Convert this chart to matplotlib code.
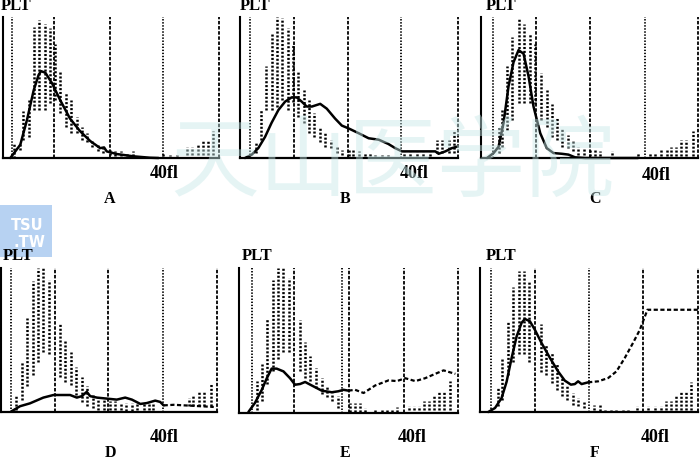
import matplotlib
matplotlib.use('Agg')
import matplotlib.pyplot as plt
from matplotlib.patches import Rectangle

plt.rcParams['lines.scale_dashes'] = False

W, H = 700, 461

# ---------------- data (x: channel 0-100, y: relative count 0-100) ----------------
panel_labels = ['A', 'B', 'C', 'D', 'E', 'F']
y_label = 'PLT'
size_label = '40fl'
watermark = '天山医学院'
logo_lines = ['TSU', '.TW']

# Panel A
A_curve_x = [3.4, 8.0, 11.1, 14.2, 16.5, 17.6, 19.6, 22.7, 26.5, 31.0, 35.7, 40.4, 45.0, 46.8, 48.0, 52.7, 60.4, 68.0, 72.0]
A_curve_y = [0, 9.4, 27, 48, 59, 61.6, 60.5, 53, 41, 28, 19, 12, 7, 7.5, 4.7, 2.8, 1.2, 0.2, 0]
A_env_x = [4.9, 8.0, 9.2, 11.9, 14.2, 16.8, 19.3, 21.9, 24.2, 26.5, 29.1, 31.6, 34.2, 36.7, 39.1, 41.4, 43.9, 46.5, 49.6, 52.0, 54.5, 57.3, 60.0, 74.3, 77.3, 80.4, 85.0, 87.4, 90.4, 92.8, 95.0, 97.4]
A_env_lo = [0, 6, 13, 15, 34, 34, 34, 39, 41, 32, 22, 18, 18, 13, 11, 8, 5, 3.5, 2.4, 1.2, 1.2, 1.2, 1.2, 1.2, 1.2, 1.2, 2.4, 2.4, 2.4, 2.4, 2.4, 2.4]
A_env_hi = [10, 10.6, 33, 41, 93, 98, 95, 92, 81, 61, 47, 41, 29, 22, 18, 13, 9, 7, 6, 4.7, 4.7, 3.5, 4.7, 3.5, 2.4, 2.4, 8, 8, 9.4, 13, 13, 19]

# Panel B
B_curve_x = [2.3, 5.4, 8.4, 11.5, 14.5, 17.6, 20.7, 23.7, 26.0, 28.3, 30.6, 33.0, 36.8, 39.8, 43.6, 46.7, 49.8, 54.4, 59.0, 63.6, 68.0, 71.2, 74.3, 82.0, 89.6, 91.1, 94.2, 97.2, 99.5]
B_curve_y = [0, 2.4, 7, 15, 25, 34, 40, 43, 43, 40, 36.5, 36.5, 38.4, 35, 28, 23, 21, 17.6, 14, 13, 10, 7, 4.7, 4.7, 4.7, 3, 4.7, 7, 8]
B_env_x = [7.2, 9.6, 11.9, 14.5, 16.8, 19.1, 21.9, 24.5, 26.8, 29.4, 31.7, 34.1, 36.8, 39.0, 41.8, 44.4, 47.0, 49.8, 52.0, 54.7, 57.4, 59.7, 62.0, 65.0, 68.0, 75.0, 78.0, 81.0, 84.0, 87.0, 90.4, 92.6, 95.7, 98.0]
B_env_lo = [3.5, 13, 34, 34, 36, 41, 34, 40, 29, 25, 18, 15, 11, 8, 7, 3.5, 2.4, 1.2, 1.2, 1.2, 1.2, 1.2, 1.2, 1.2, 1.2, 1.2, 1.2, 1.2, 1.2, 1.2, 3.5, 3.5, 3.5, 3.5]
B_env_hi = [10.6, 34, 65, 88, 100, 99, 92, 81, 62, 48, 41, 32, 22, 18, 13, 8, 6, 6, 6, 4.7, 3.5, 3.5, 2.4, 2.4, 2.4, 4, 4, 4, 4, 4, 13, 13, 13, 19]

# Panel C
C_curve_x = [2.8, 5.8, 8.1, 10.4, 12.7, 15.0, 17.3, 19.6, 21.9, 24.2, 27.3, 30.3, 33.4, 37.2, 40.3, 43.3, 48.0, 72.4]
C_curve_y = [0, 3.5, 8, 25, 51, 68, 76.5, 74, 58, 36.5, 17.6, 7, 3.5, 3, 2.4, 0.5, 0, 0]
C_env_x = [8.1, 9.6, 11.9, 14.5, 17.3, 19.9, 22.4, 25.0, 27.7, 30.3, 32.6, 34.9, 37.5, 40.3, 42.6, 44.9, 47.6, 50.2, 52.5, 54.8, 60.2, 72.4, 77.8, 80.0, 83.0, 85.5, 87.7, 90.0, 92.3, 94.6, 97.7]
C_env_lo = [3.5, 8, 20, 27, 39, 39, 39, 38, 27, 22, 15, 13, 8, 7, 4.7, 2.4, 2.4, 1.2, 1.2, 1.2, 2.4, 1.2, 1.2, 1.2, 1.2, 1.2, 1.2, 1.2, 1.2, 1.2, 1.2]
C_env_hi = [22, 34, 65, 86, 99, 95, 89, 81, 60, 48, 38, 29, 21, 16, 13, 8, 7, 6, 6, 4.7, 4.7, 3.5, 3.5, 3.5, 6, 6, 8, 8, 13, 13, 19]

# Panel D
D_curve_x = [4.9, 8.8, 13.4, 19.6, 24.3, 32.0, 35.1, 37.4, 39.7, 41.3, 44.4, 49.0, 53.6, 57.5, 60.6, 64.5, 67.5, 71.4, 73.7, 75.3]
D_curve_y = [0.5, 4, 6, 10, 11.8, 11.8, 10, 11, 14, 11, 10, 9.3, 8.6, 10, 8.6, 5.6, 6.2, 7.9, 7, 4.6]
D_dash_x = [75.3, 80.0, 85.0, 90.0, 95.0, 98.5]
D_dash_y = [4.6, 5.0, 4.6, 4.2, 3.8, 3.5]
D_env_x = [7.0, 9.6, 12.2, 15.0, 17.3, 19.6, 22.4, 27.4, 29.7, 32.3, 34.8, 37.4, 39.7, 42.5, 45.0, 47.5, 50.5, 53.0, 55.5, 58.0, 60.5, 63.0, 66.0, 68.3, 70.6, 86.9, 89.0, 91.5, 93.8, 97.0]
D_env_lo = [1.6, 8.6, 18, 26, 35, 42, 40, 24, 21, 19, 12, 7, 4, 3, 1.6, 1.6, 1.6, 1.6, 1.6, 1, 1, 1.6, 1.6, 1.6, 1.6, 4, 4, 4, 4, 4]
D_env_hi = [11, 35, 65, 91, 100, 100, 92, 62, 49, 42, 31, 24, 18, 12, 10, 8.6, 7.5, 7.5, 6.2, 6.2, 6.2, 6.2, 6.2, 6.2, 6.2, 9.7, 11, 14, 14, 20]

# Panel E
E_curve_x = [4.3, 7.3, 10.4, 12.7, 14.9, 17.2, 20.3, 23.3, 25.6, 27.9, 30.2, 33.2, 37.8, 42.4, 45.4, 47.7, 50.0]
E_curve_y = [0.7, 7, 16, 24, 30.6, 30.6, 28.7, 24, 19.5, 20, 21.4, 19, 15.4, 14.3, 15, 16, 15.4]
E_dash_x = [50.0, 53.0, 56.9, 62.2, 68.3, 72.1, 75.9, 80.5, 85.0, 89.6, 93.4, 96.5, 98.8]
E_dash_y = [15.4, 16, 13.8, 19, 22.5, 22, 24, 22, 24, 27, 29.4, 28, 27]
E_env_x = [8.1, 10.4, 13.0, 15.4, 18.0, 20.3, 22.9, 27.9, 30.2, 32.5, 35.0, 37.8, 40.0, 42.4, 45.0, 50.8, 53.0, 55.3, 57.6, 62.2, 65.2, 67.5, 69.8, 72.0, 77.4, 79.7, 82.0, 84.3, 86.6, 88.9, 91.2, 93.4, 96.5]
E_env_lo = [2, 8, 20, 29, 37, 42, 42, 29, 24, 22, 17, 13, 11, 8, 3.5, 1, 1, 1, 1, 1, 1, 1, 1, 1, 2.4, 2.4, 2.4, 2.4, 2.4, 2.4, 2.4, 2.4, 2.4]
E_env_hi = [22, 34, 65, 92, 100, 100, 93, 64, 49, 39, 31, 24, 18, 14, 11.5, 7, 7, 7, 3.5, 2.4, 2.4, 2.4, 2.4, 4, 4.6, 4.6, 4.6, 8, 8, 11.5, 15, 15, 22]

# Panel F
F_curve_x = [3.8, 6.9, 9.9, 12.2, 14.5, 16.8, 19.1, 20.6, 22.9, 25.2, 28.2, 32.1, 35.9, 38.9, 41.7, 43.5, 45.0, 46.6, 49.6]
F_curve_y = [0, 2.8, 9.7, 21, 37.5, 52.5, 62, 64.6, 63, 57, 48, 37.5, 28, 21.8, 19, 19.4, 21.3, 19.4, 20.6]
F_dash_x = [49.6, 54.2, 58.8, 62.6, 66.4, 70.2, 73.3, 74.8, 76.8, 84.7, 92.4, 100.0]
F_dash_y = [20.6, 21.3, 23.6, 28.2, 37.5, 48, 57, 63, 71, 71, 71, 71]
F_env_x = [8.4, 10.2, 13.0, 15.3, 17.9, 20.3, 22.6, 27.9, 30.5, 32.8, 35.1, 37.7, 40.0, 42.7, 45.0, 47.6, 52.4, 55.0, 57.3, 60.3, 62.6, 65.6, 68.0, 71.8, 77.1, 80.2, 83.2, 85.5, 87.8, 90.0, 92.4, 94.7, 97.0]
F_env_lo = [4, 8, 26, 35, 40, 40, 35, 28, 26, 20, 15.5, 11, 8.6, 5, 4, 2.8, 1.6, 0.5, 0.5, 0.5, 0.5, 0.5, 0.5, 1.6, 1.6, 1.6, 1.6, 1.6, 1.6, 1.6, 1.6, 1.6, 1.6]
F_env_hi = [17, 37, 63, 87, 98, 98, 90, 61, 47, 41, 33, 24, 18, 13, 10, 7.4, 5, 5, 1.6, 1.6, 1.6, 1.6, 1.6, 4, 4, 4, 4, 7.4, 7.4, 11, 14, 14, 21]

curves = {'A': (A_curve_x, A_curve_y), 'B': (B_curve_x, B_curve_y), 'C': (C_curve_x, C_curve_y),
          'D': (D_curve_x, D_curve_y), 'E': (E_curve_x, E_curve_y), 'F': (F_curve_x, F_curve_y)}
dashes = {'D': (D_dash_x, D_dash_y), 'E': (E_dash_x, E_dash_y), 'F': (F_dash_x, F_dash_y)}
envs = {'A': (A_env_x, A_env_lo, A_env_hi), 'B': (B_env_x, B_env_lo, B_env_hi),
        'C': (C_env_x, C_env_lo, C_env_hi), 'D': (D_env_x, D_env_lo, D_env_hi),
        'E': (E_env_x, E_env_lo, E_env_hi), 'F': (F_env_x, F_env_lo, F_env_hi)}

# ---------------- layout (pixels) ----------------
boxes = {'A': (3, 219, 158, 17), 'B': (240, 458, 158, 17), 'C': (481, 698, 158, 17),
         'D': (1, 217, 412, 268), 'E': (239, 458, 413, 268), 'F': (480, 698, 412, 268)}
guides = {
    'A': [(4.2, 'o'), (23.6, 'd'), (49.5, 'd'), (74.1, 'o'), (100, 'd')],
    'B': [(4.6, 'o'), (24.8, 'd'), (49.5, 'd'), (73.9, 'o'), (100, 'd')],
    'C': [(5.5, 'o'), (25.3, 'd'), (50.2, 'd'), (75.6, 'o'), (100, 'd')],
    'D': [(4.6, 'o'), (25.0, 'd'), (49.5, 'd'), (75.0, 'o'), (100, 'd')],
    'E': [(5.9, 'o'), (25.1, 'd'), (47.0, 'o'), (50.2, 'd'), (75.3, 'd'), (100, 'd')],
    'F': [(5.0, 'o'), (25.2, 'd'), (50.0, 'o'), (74.8, 'd'), (100, 'd')],
}
plt_pos = {'A': (1, 10.5), 'B': (240, 10.5), 'C': (486, 10.5), 'D': (3, 260), 'E': (242, 260), 'F': (486, 260)}
fl_pos = {'A': (150, 178), 'B': (400, 178), 'C': (642, 180), 'D': (150, 442), 'E': (398, 442), 'F': (641, 442)}
let_pos = {'A': (110, 203), 'B': (345, 203), 'C': (595, 203), 'D': (110, 457), 'E': (345, 457), 'F': (595, 457)}

DOT = (0, (1.0, 1.2))
DASH = (0, (2.5, 1.2))
ENV_DOT = (0, (1.5, 1.3))
SERIF = 'Liberation Serif'

fig = plt.figure(figsize=(W / 100, H / 100), dpi=100)
fig.patch.set_facecolor('white')

def fx(x):
    return x / W

def fy(y):
    return 1 - y / H

for lab in panel_labels:
    l, r, b, t = boxes[lab]
    ax = fig.add_axes([fx(l), fy(b), (r - l) / W, (b - t) / H])
    ax.set_xlim(0, 100)
    ax.set_ylim(0, 100)
    ax.set_xticks([])
    ax.set_yticks([])
    ax.patch.set_alpha(0)
    for s in ['top', 'right']:
        ax.spines[s].set_visible(False)
    ax.spines['left'].set_linewidth(1.5)
    ax.spines['bottom'].set_linewidth(1.6)
    for gx, st in guides[lab]:
        ax.plot([gx, gx], [0, 100], color='black', lw=1.3,
                ls=DASH if st == 'd' else DOT, clip_on=False)
    ex, elo, ehi = envs[lab]
    ax.vlines(ex, elo, ehi, colors='black', linewidth=1.8, linestyles=[ENV_DOT], clip_on=False)
    cx, cy = curves[lab]
    ax.plot(cx, cy, color='black', lw=1.8, solid_joinstyle='round', solid_capstyle='round', clip_on=False)
    if lab in dashes:
        dx, dy = dashes[lab]
        ax.plot(dx, dy, color='black', lw=1.6, ls=(0, (3.0, 1.8)), clip_on=False)

    px, py = plt_pos[lab]
    fig.text(fx(px), fy(py), y_label, family=SERIF, weight='bold', fontsize=12, ha='left', va='baseline')
    qx, qy = fl_pos[lab]
    fig.text(fx(qx), fy(qy), size_label, family=SERIF, weight='bold', fontsize=13, ha='left', va='baseline')
    lx, ly = let_pos[lab]
    fig.text(fx(lx), fy(ly), lab, family=SERIF, weight='bold', fontsize=11.5, ha='center', va='baseline')

# logo box
fig.patches.append(Rectangle((fx(0), fy(257)), 52 / W, 52 / H, transform=fig.transFigure,
                             facecolor='#b7d2f2', edgecolor='none', zorder=0))
fig.text(fx(27), fy(230), logo_lines[0], family='DejaVu Sans', weight='bold', fontsize=10.5,
         color='white', ha='center', va='baseline', zorder=1)
fig.text(fx(29), fy(247), logo_lines[1], family='DejaVu Sans', weight='bold', fontsize=10.5,
         color='white', ha='center', va='baseline', zorder=1)

# watermark
fig.text(fx(392), fy(165), watermark, family=['Noto Sans CJK SC', 'DejaVu Sans'], fontsize=64,
         color=(0.78, 0.91, 0.91), alpha=0.45, ha='center', va='center', zorder=10)

fig.savefig('out.png', dpi=100, facecolor='white')
